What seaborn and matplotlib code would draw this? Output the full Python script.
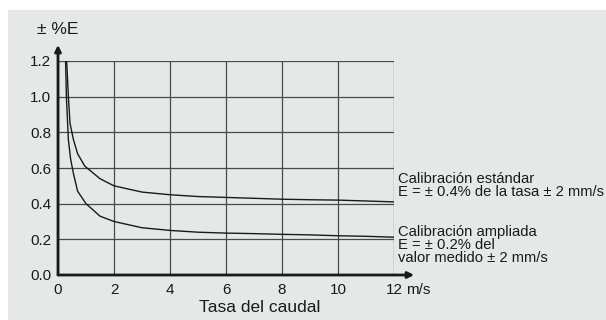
import numpy as np
import pandas as pd
import matplotlib
matplotlib.use("Agg")
import matplotlib.pyplot as plt
import seaborn as sns

# curve values
x_std = [0.31, 0.37, 0.43, 0.55, 0.7, 0.96, 1.5, 2, 3, 4, 5, 6, 7, 8, 9, 10, 11, 12]
y_std = [1.2, 1.0, 0.85, 0.76, 0.68, 0.61, 0.54, 0.5, 0.465, 0.45, 0.44, 0.435,
         0.43, 0.425, 0.422, 0.42, 0.415, 0.41]
x_amp = [0.27, 0.3, 0.37, 0.45, 0.55, 0.7, 1.0, 1.5, 2, 3, 4, 5, 6, 7, 8, 9, 10, 11, 12]
y_amp = [1.2, 1.0, 0.76, 0.65, 0.57, 0.47, 0.4, 0.33, 0.3, 0.265, 0.25, 0.24, 0.235,
         0.232, 0.228, 0.225, 0.22, 0.217, 0.212]

x_ticks = [0, 2, 4, 6, 8, 10, 12]
y_ticks = [0.0, 0.2, 0.4, 0.6, 0.8, 1.0, 1.2]

lbl_std = ["Calibración estándar", "E = ± 0.4% de la tasa ± 2 mm/s"]
lbl_amp = ["Calibración ampliada", "E = ± 0.2% del", "valor medido ± 2 mm/s"]

sns.set_style("white")
plt.rcParams['font.family'] = ['Liberation Sans', 'DejaVu Sans']

bg = '#e6e7e7'
ink = '#1a1a1a'

fig = plt.figure(figsize=(6.06, 3.2), dpi=100)
fig.patch.set_facecolor('white')

# gray panel behind everything
bg_ax = fig.add_axes([8 / 606, 0, 1 - 8 / 606, 1 - 10 / 320], zorder=-1)
bg_ax.set_facecolor(bg)
bg_ax.set_xticks([])
bg_ax.set_yticks([])
for s in bg_ax.spines.values():
    s.set_visible(False)

ax = fig.add_axes([58 / 606, 45 / 320, 336 / 606, 214 / 320], zorder=1)
ax.patch.set_alpha(0)

df = pd.concat([
    pd.DataFrame({'v': x_std, 'e': y_std, 'cal': 'std'}),
    pd.DataFrame({'v': x_amp, 'e': y_amp, 'cal': 'amp'}),
])
sns.lineplot(data=df, x='v', y='e', units='cal', estimator=None, sort=False,
             color=ink, lw=1.0, ax=ax, legend=False)

ax.set_xlim(0, 12)
ax.set_ylim(0, 1.2)
ax.set_xticks(x_ticks)
ax.set_yticks(y_ticks)
ax.set_xticklabels([str(t) for t in x_ticks])
ax.set_yticklabels([f"{t:.1f}" for t in y_ticks])
ax.grid(True, color='#4a4a4a', lw=0.9)
ax.set_axisbelow(True)
for s in ax.spines.values():
    s.set_visible(False)
ax.tick_params(axis='both', length=3, width=1.2, color=ink, labelsize=11,
               labelcolor=ink, pad=2, direction='out')
ax.tick_params(axis='x', pad=3)
ax.set_xlabel('')
ax.set_ylabel('')

# axis arrows
ax.annotate('', xy=(0, 1.075), xytext=(0, 0), xycoords='axes fraction',
            arrowprops=dict(arrowstyle='-|>', color=ink, lw=2, mutation_scale=9,
                            shrinkA=0, shrinkB=0), annotation_clip=False)
ax.annotate('', xy=(1.06, 0), xytext=(0, 0), xycoords='axes fraction',
            arrowprops=dict(arrowstyle='-|>', color=ink, lw=2, mutation_scale=9,
                            shrinkA=0, shrinkB=0), annotation_clip=False)

ax.text(12.42, -0.083, 'm/s', ha='left', va='center', fontsize=11, color=ink, clip_on=False)
ax.text(7.2, -0.182, 'Tasa del caudal', ha='center', va='center', fontsize=12.5,
        color=ink, clip_on=False)
ax.text(-0.75, 1.374, '± %E', ha='left', va='center', fontsize=12.5, color=ink, clip_on=False)

ax.text(12.15, 0.50, "\n".join(lbl_std), ha='left', va='center', fontsize=10.6,
        color=ink, linespacing=0.9, clip_on=False)
ax.text(12.15, 0.168, "\n".join(lbl_amp), ha='left', va='center', fontsize=10.6,
        color=ink, linespacing=0.9, clip_on=False)

fig.savefig('out.png', dpi=100, facecolor='white')
